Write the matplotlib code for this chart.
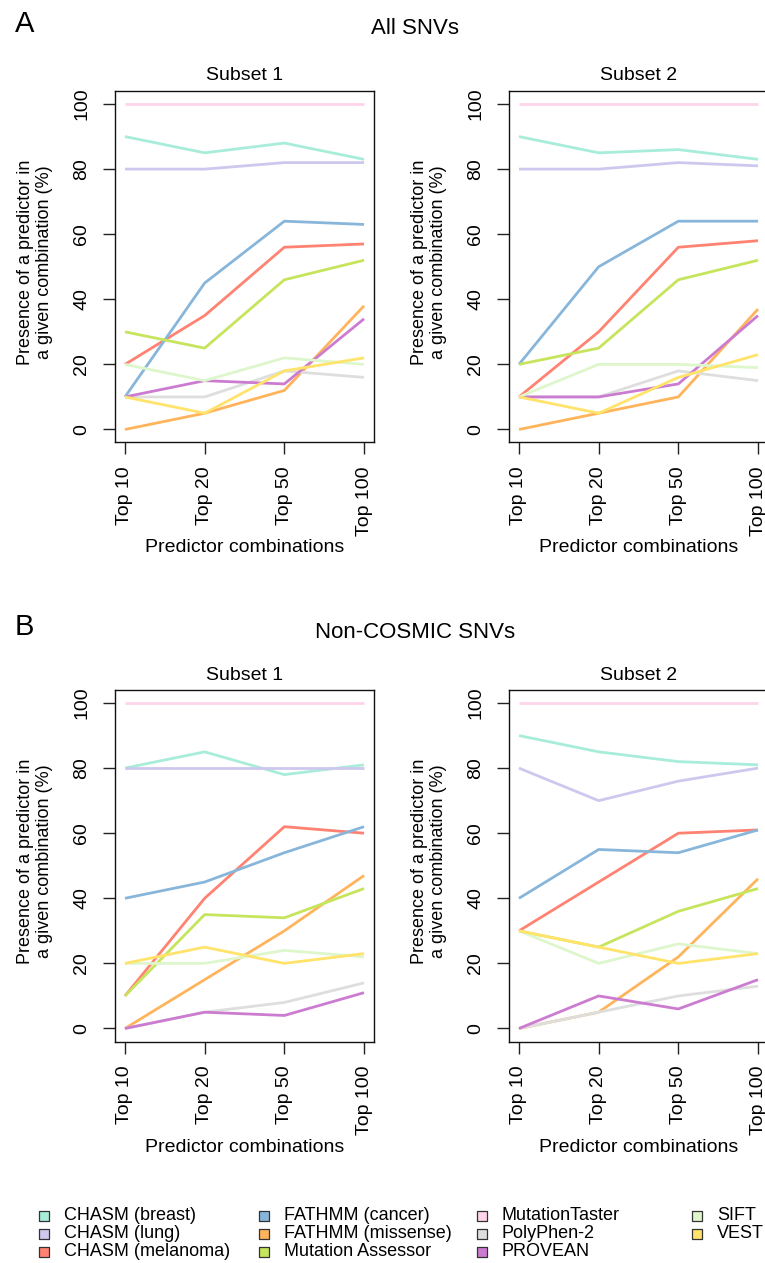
"""
Presence of predictors in top predictor combinations (All SNVs / Non-COSMIC SNVs)
"""
import matplotlib
matplotlib.use('Agg')
import matplotlib.pyplot as plt

plt.rcParams['font.family'] = ['Liberation Sans', 'DejaVu Sans']

W, H = 765, 1263
DPI = 100

predictors = ['CHASM (breast)', 'CHASM (lung)', 'CHASM (melanoma)',
              'FATHMM (cancer)', 'FATHMM (missense)', 'Mutation Assessor',
              'MutationTaster', 'PolyPhen-2', 'PROVEAN', 'SIFT', 'VEST']
colors = ['#a8ecda', '#cdc8ee', '#ff8272', '#88b6da', '#ffb45c', '#c6e45c',
          '#ffd4ea', '#dedede', '#cc7cd0', '#def6cc', '#ffe36a']
x_labels = ['Top 10', 'Top 20', 'Top 50', 'Top 100']

# one row per predictor, in the order above
all_subset1 = [
    [90, 85, 88, 83],
    [80, 80, 82, 82],
    [20, 35, 56, 57],
    [10, 45, 64, 63],
    [0, 5, 12, 38],
    [30, 25, 46, 52],
    [100, 100, 100, 100],
    [10, 10, 18, 16],
    [10, 15, 14, 34],
    [20, 15, 22, 20],
    [10, 5, 18, 22],
]
all_subset2 = [
    [90, 85, 86, 83],
    [80, 80, 82, 81],
    [10, 30, 56, 58],
    [20, 50, 64, 64],
    [0, 5, 10, 37],
    [20, 25, 46, 52],
    [100, 100, 100, 100],
    [10, 10, 18, 15],
    [10, 10, 14, 35],
    [10, 20, 20, 19],
    [10, 5, 16, 23],
]
noncosmic_subset1 = [
    [80, 85, 78, 81],
    [80, 80, 80, 80],
    [10, 40, 62, 60],
    [40, 45, 54, 62],
    [0, 15, 30, 47],
    [10, 35, 34, 43],
    [100, 100, 100, 100],
    [0, 5, 8, 14],
    [0, 5, 4, 11],
    [20, 20, 24, 22],
    [20, 25, 20, 23],
]
noncosmic_subset2 = [
    [90, 85, 82, 81],
    [80, 70, 76, 80],
    [30, 45, 60, 61],
    [40, 55, 54, 61],
    [0, 5, 22, 46],
    [30, 25, 36, 43],
    [100, 100, 100, 100],
    [0, 5, 10, 13],
    [0, 10, 6, 15],
    [30, 20, 26, 23],
    [30, 25, 20, 23],
]

FS = 14
BOX_W, BOX_H = 258.2, 351.5

fig = plt.figure(figsize=(W / DPI, H / DPI), dpi=DPI, facecolor='white')


def draw_panel(left, top, values, subtitle):
    ax = fig.add_axes([left / W, 1 - (top + BOX_H) / H, BOX_W / W, BOX_H / H])
    xs = [1, 2, 3, 4]
    for vals, c in zip(values, colors):
        ax.plot(xs, vals, color=c, lw=2.0, solid_capstyle='butt')
    ax.set_xlim(0.88, 4.12)
    ax.set_ylim(-4, 104)
    ax.set_xticks(xs, x_labels)
    ax.set_yticks(range(0, 101, 20))
    ax.tick_params(axis='both', length=8.5, width=1.0, color='#222222',
                   labelsize=FS, direction='out')
    ax.tick_params(axis='x', pad=9)
    ax.tick_params(axis='y', pad=9.5)
    plt.setp(ax.get_xticklabels(), rotation=90, va='top', ha='center')
    plt.setp(ax.get_yticklabels(), rotation=90, va='center', ha='right')
    for sp in ax.spines.values():
        sp.set_linewidth(1.0)
        sp.set_color('#111111')

    ax.set_title(subtitle, fontsize=14, y=(BOX_H + 15) / BOX_H, pad=0, va='center')
    ax.set_xlabel('Predictor combinations', fontsize=FS)
    ax.xaxis.set_label_coords(0.5, -(548 - 442.5) / BOX_H)
    ax.xaxis.label.set_va('center')
    ax.set_ylabel('Presence of a predictor in\na given combination (%)',
                  fontsize=13, linespacing=1.1)
    ax.yaxis.set_label_coords(-(115.4 - 35) / BOX_W, 0.513)
    ax.yaxis.label.set_va('center')
    return ax


draw_panel(115.4, 91, all_subset1, 'Subset 1')
draw_panel(509.4, 91, all_subset2, 'Subset 2')
draw_panel(115.4, 690, noncosmic_subset1, 'Subset 1')
draw_panel(509.4, 690, noncosmic_subset2, 'Subset 2')

fig.text(15 / W, 1 - 24 / H, 'A', fontsize=21, ha='left', va='center')
fig.text(415 / W, 1 - 29 / H, 'All SNVs', fontsize=16, ha='center', va='center')
fig.text(15 / W, 1 - 627 / H, 'B', fontsize=21, ha='left', va='center')
fig.text(415 / W, 1 - 632 / H, 'Non-COSMIC SNVs', fontsize=16, ha='center', va='center')

# legend: 4 columns x 3 rows
lax = fig.add_axes([0, 0, 1, 1])
lax.set_xlim(0, W)
lax.set_ylim(H, 0)
lax.axis('off')
lax.patch.set_visible(False)
col_x = [44, 264, 482, 697]
row_y = [1216, 1234, 1252]
for i, (name, c) in enumerate(zip(predictors, colors)):
    cx = col_x[i // 3]
    cy = row_y[i % 3]
    lax.scatter([cx], [cy], marker='s', s=52, c=c, edgecolors='#333333',
                linewidths=0.9, zorder=3)
    lax.text(cx + 20, cy, name, fontsize=13, ha='left', va='center')

fig.savefig('out.png', dpi=DPI, facecolor='white')
plt.close(fig)
